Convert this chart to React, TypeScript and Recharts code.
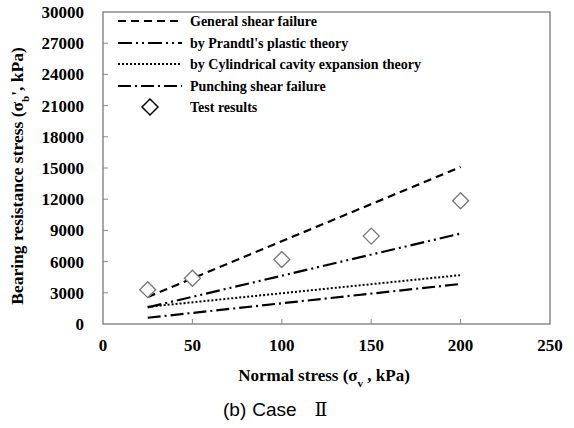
import React from 'react';
import { ComposedChart, Line, Scatter, XAxis, YAxis, ReferenceArea, Legend, Label } from 'recharts';

const lineX = [25, 200];
const generalShear = [2600, 15100];
const prandtl = [1600, 8700];
const cylindrical = [1650, 4700];
const punching = [600, 3850];
const testX = [25, 50, 100, 150, 200];
const testY = [3300, 4400, 6200, 8450, 11850];
const xTicks = [0, 50, 100, 150, 200, 250];
const yTicks = [0, 3000, 6000, 9000, 12000, 15000, 18000, 21000, 24000, 27000, 30000];

const legendNames = [
  'General shear failure',
  "by Prandtl's plastic theory",
  'by Cylindrical cavity expansion theory',
  'Punching shear failure',
  'Test results',
];

const mk = (ys: number[]) => lineX.map((x, i) => ({ x, y: ys[i] }));
const testData = testX.map((x, i) => ({ x, y: testY[i] }));

const SERIF = '"Liberation Serif", "Times New Roman", serif';
const GRAY = '#8a8a8a';

const dashes = ['8 5', '14 4 2 4 2 4', '2 2', '13 4 2 4'];

const XTick = (props: any) => {
  const { x, y, payload } = props;
  const v = payload.value;
  return (
    <g>
      {v !== 0 && v !== 250 && <line x1={x} x2={x} y1={y} y2={y - 5} stroke={GRAY} strokeWidth={1} />}
      <text x={x} y={y + 27} textAnchor="middle" fontFamily={SERIF} fontWeight="bold" fontSize={17} fill="#000">
        {v}
      </text>
    </g>
  );
};

const YTick = (props: any) => {
  const { x, y, payload } = props;
  const v = payload.value;
  return (
    <g>
      {v !== 0 && v !== 30000 && <line x1={x} x2={x + 5} y1={y} y2={y} stroke={GRAY} strokeWidth={1} />}
      <text x={x - 19} y={y + 6} textAnchor="end" fontFamily={SERIF} fontWeight="bold" fontSize={17} fill="#000">
        {v}
      </text>
    </g>
  );
};

const Diamond = (props: any) => {
  const { cx, cy } = props;
  const r = 8;
  return (
    <path
      d={`M${cx},${cy - r} L${cx + r},${cy} L${cx},${cy + r} L${cx - r},${cy} Z`}
      fill="#fff"
      stroke="#777"
      strokeWidth={1.3}
    />
  );
};

const LegendContent = () => {
  const rows = [21, 43, 64, 86, 107];
  return (
    <svg width={574} height={130} style={{ display: 'block', overflow: 'visible' }}>
      {rows.map((ry, i) => (
        <g key={i}>
          {i < 4 ? (
            <line x1={118} x2={182} y1={ry} y2={ry} stroke="#000" strokeWidth={2} strokeDasharray={dashes[i]} />
          ) : (
            <path d={`M150,${ry - 8} L158,${ry} L150,${ry + 8} L142,${ry} Z`} fill="#fff" stroke="#000" strokeWidth={1.5} />
          )}
          <text x={190} y={ry + 5} fontFamily={SERIF} fontWeight="bold" fontSize={14} fill="#000">
            {legendNames[i]}
          </text>
        </g>
      ))}
    </svg>
  );
};

const YLabel = (props: any) => {
  return (
    <text
      transform="translate(23,176) rotate(-90)"
      textAnchor="middle"
      fontFamily={SERIF}
      fontWeight="bold"
      fontSize={17.5}
      fill="#000"
    >
      Bearing resistance stress (σ<tspan baselineShift="sub" fontSize={11}>b</tspan>', kPa)
    </text>
  );
};

const XLabel = (props: any) => {
  return (
    <g>
      <text x={324} y={381} textAnchor="middle" fontFamily={SERIF} fontWeight="bold" fontSize={17} fill="#000">
        Normal stress (σ<tspan baselineShift="sub" fontSize={11}>v</tspan> , kPa)
      </text>
      <text
        x={223}
        y={416}
        textAnchor="start"
        fontFamily='"Liberation Sans", Arial, sans-serif'
        fontSize={19}
        fill="#000"
      >
        (b)
        <tspan dx={6}>Case</tspan>
        <tspan dx={18} fontFamily='"DejaVu Serif", serif' fontSize={19}>Ⅱ</tspan>
      </text>
    </g>
  );
};

export default function App() {
  return (
    <div style={{ position: 'absolute', left: 0, top: 0, width: 574, height: 428, background: '#fff' }}>
      <ComposedChart width={574} height={428} margin={{ top: 12, right: 24, left: 0, bottom: 0 }}>
        <XAxis
          dataKey="x"
          type="number"
          domain={[0, 250]}
          ticks={xTicks}
          interval={0}
          height={104}
          tickSize={0}
          tickMargin={0}
          axisLine={false}
          tickLine={false}
          tick={<XTick />}
        >
          <Label content={<XLabel />} />
        </XAxis>
        <YAxis
          dataKey="y"
          type="number"
          domain={[0, 30000]}
          ticks={yTicks}
          interval={0}
          width={103}
          tickSize={0}
          tickMargin={0}
          axisLine={false}
          tickLine={false}
          tick={<YTick />}
        >
          <Label content={<YLabel />} />
        </YAxis>
        <ReferenceArea x1={0} x2={250} y1={0} y2={30000} fill="none" stroke={GRAY} strokeWidth={1.5} />
        <Line data={mk(generalShear)} dataKey="y" stroke="#000" strokeWidth={2.2} strokeDasharray={dashes[0]} dot={false} isAnimationActive={false} />
        <Line data={mk(prandtl)} dataKey="y" stroke="#000" strokeWidth={2.2} strokeDasharray={dashes[1]} dot={false} isAnimationActive={false} />
        <Line data={mk(cylindrical)} dataKey="y" stroke="#000" strokeWidth={2} strokeDasharray={dashes[2]} dot={false} isAnimationActive={false} />
        <Line data={mk(punching)} dataKey="y" stroke="#000" strokeWidth={2.2} strokeDasharray={dashes[3]} dot={false} isAnimationActive={false} />
        <Scatter data={testData} dataKey="y" shape={<Diamond />} isAnimationActive={false} />
        <Legend
          layout="vertical"
          align="center"
          verticalAlign="middle"
          content={<LegendContent />}
          wrapperStyle={{ position: 'absolute', left: 0, top: 0, width: 574, height: 130 }}
        />
      </ComposedChart>
    </div>
  );
}
